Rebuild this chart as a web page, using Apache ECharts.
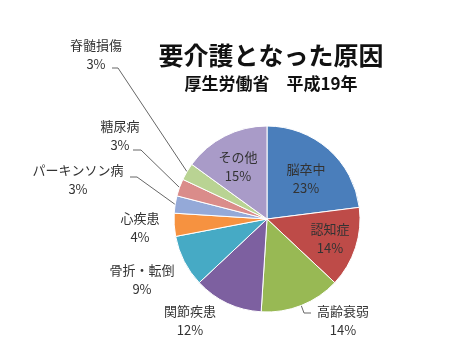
<!DOCTYPE html>
<html><head><meta charset="utf-8">
<script src="https://cdn.jsdelivr.net/npm/echarts@6/dist/echarts.min.js"></script>
<style>html,body{margin:0;padding:0;background:#fff}#c{width:450px;height:358px}</style>
</head><body><div id="c"></div>
<script>
// data
var categories = ['脳卒中','認知症','高齢衰弱','関節疾患','骨折・転倒','心疾患','パーキンソン病','糖尿病','脊髄損傷','その他'];
var values = [23,14,14,12,9,4,3,3,3,15];
var colors = ['#4A7EBB','#BE4B48','#98B954','#7D60A0','#46AAC5','#F69240','#94A9D8','#DA8C8A','#B9D393','#A99BC8'];
var titleText = '要介護となった原因';
var subtitleText = '厚生労働省　平成19年';

// label layout (centers of label blocks) and leader line bends
var labelCenters = [[306,179],[330,239],[343,321],[190,321],[142,280],[140,228],[78,180],[120,136],[96,55],[238,167]];
var lineBends = {2:[[304,313],[311,313]],6:[[137,177],[130,177]],7:[[141,150],[133,150]],8:[[118,68],[112,68]]};

var chart = echarts.init(document.getElementById('c'));
var data = categories.map(function(n,i){
  return {name:n, value:values[i], itemStyle:{color:colors[i]},
    labelLine:{show: !!lineBends[i]}};
});
chart.setOption({
  animation:false,
  title:[
    {text:titleText, left:266, top:38, textAlign:'center',
     textStyle:{fontFamily:'Noto Sans CJK JP', fontWeight:'bold', fontSize:25, color:'#111'}},
    {text:subtitleText, left:266, top:70, textAlign:'center',
     textStyle:{fontFamily:'Noto Sans CJK JP', fontWeight:'bold', fontSize:17, color:'#111'}}
  ],
  series:[{
    type:'pie', center:[267,219], radius:93, startAngle:90, clockwise:true,
    avoidLabelOverlap:false,
    itemStyle:{borderColor:'#fff', borderWidth:1},
    label:{show:true, position:'outside', formatter:function(p){return p.name+'\n'+p.value+'%';},
      fontFamily:'Noto Sans CJK JP', fontSize:13, lineHeight:19, color:'#333', align:'center'},
    labelLine:{show:true, length:10, length2:8, lineStyle:{color:'#666', width:1}},
    labelLayout:function(p){
      var c = labelCenters[p.dataIndex];
      var r = {x:c[0], y:c[1], align:'center', verticalAlign:'middle'};
      var b = lineBends[p.dataIndex];
      if (b && p.labelLinePoints) {
        r.labelLinePoints = [p.labelLinePoints[0], b[0], b[1]];
      }
      return r;
    },
    data:data
  }]
});
</script></body></html>
